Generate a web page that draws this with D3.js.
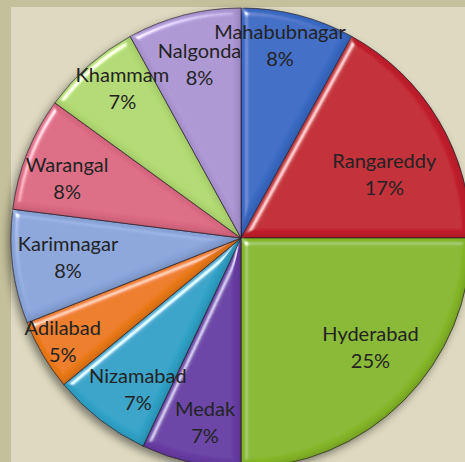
<!DOCTYPE html>
<html>
<head>
<meta charset="utf-8">
<script src="https://cdn.jsdelivr.net/npm/d3@7"></script>
<style>
  body { margin: 0; background: #c4c09b; }
  svg { display: block; }
  text { font-family: Lato, "Liberation Sans", sans-serif; }
</style>
</head>
<body>
<div id="chart"></div>
<script>
// districts, clockwise from 12 o'clock
var districts = ['Mahabubnagar', 'Rangareddy', 'Hyderabad', 'Medak', 'Nizamabad',
                 'Adilabad', 'Karimnagar', 'Warangal', 'Khammam', 'Nalgonda'];
var shares = [8, 17, 25, 7, 7, 5, 8, 8, 7, 8];

// slice colours (office 2007 style)
var sliceColors = ['#3a6bc4', '#c1232f', '#86b72a', '#673ca4', '#33a2c7',
                   '#ec7a1a', '#8aa5da', '#db6a83', '#b1d972', '#ab95d3'];

// label distance from centre, per district (layout only)
var labelDist = {
    'Mahabubnagar': 197, 'Rangareddy': 157, 'Hyderabad': 169, 'Medak': 187,
    'Nizamabad': 183, 'Adilabad': 206, 'Karimnagar': 174, 'Warangal': 184,
    'Khammam': 191, 'Nalgonda': 179
};
// small angle nudges in degrees (layout only)
var labelNudge = {
    'Mahabubnagar': -3, 'Rangareddy': 6.5, 'Hyderabad': -5, 'Medak': -1.5,
    'Nizamabad': -3.5, 'Adilabad': 0.5, 'Karimnagar': 1, 'Warangal': -2.5,
    'Khammam': 3, 'Nalgonda': 1
};

var width = 465, height = 462;
var cx = 241, cy = 238, radius = 230;

var svg = d3.select('#chart').append('svg')
    .attr('width', width)
    .attr('height', height);

// slide background
svg.append('rect')
    .attr('x', 11).attr('y', 7)
    .attr('width', width - 11).attr('height', height - 7)
    .attr('fill', '#dedac1');

var defs = svg.append('defs');

// bevel filter for the slices: light rim top-left, dark rim bottom-right
var bevel = defs.append('filter').attr('id', 'bevel')
    .attr('x', '-5%').attr('y', '-5%').attr('width', '110%').attr('height', '110%');
bevel.append('feGaussianBlur').attr('in', 'SourceAlpha').attr('stdDeviation', 3.5).attr('result', 'blur');
var spec = bevel.append('feSpecularLighting')
    .attr('in', 'blur').attr('surfaceScale', 5).attr('specularConstant', 0.8)
    .attr('specularExponent', 40).attr('lighting-color', '#ffffff').attr('result', 'spec');
spec.append('feDistantLight').attr('azimuth', 225).attr('elevation', 40);
bevel.append('feComposite').attr('in', 'spec').attr('in2', 'SourceAlpha')
    .attr('operator', 'in').attr('result', 'specOut');
// inner dark edge
bevel.append('feOffset').attr('in', 'blur').attr('dx', -2).attr('dy', -2).attr('result', 'offBlur');
bevel.append('feComposite').attr('in', 'SourceAlpha').attr('in2', 'offBlur')
    .attr('operator', 'out').attr('result', 'rim');
bevel.append('feFlood').attr('flood-color', '#000').attr('flood-opacity', 0.35).attr('result', 'dark');
bevel.append('feComposite').attr('in', 'dark').attr('in2', 'rim').attr('operator', 'in').attr('result', 'darkRim');
bevel.append('feComposite').attr('in', 'SourceGraphic').attr('in2', 'specOut')
    .attr('operator', 'arithmetic').attr('k1', 0).attr('k2', 1).attr('k3', 1).attr('k4', 0)
    .attr('result', 'lit');
var merge = bevel.append('feMerge');
merge.append('feMergeNode').attr('in', 'lit');
merge.append('feMergeNode').attr('in', 'darkRim');

// drop shadow for the whole pie
var shadow = defs.append('filter').attr('id', 'shadow')
    .attr('x', '-10%').attr('y', '-10%').attr('width', '120%').attr('height', '120%');
shadow.append('feDropShadow').attr('dx', -3).attr('dy', 4).attr('stdDeviation', 4)
    .attr('flood-color', '#000').attr('flood-opacity', 0.45);

var pie = d3.pie().sort(null).value(function(d){ return d; });
var arc = d3.arc().innerRadius(0).outerRadius(radius);
var arcs = pie(shares);

var g = svg.append('g').attr('transform', 'translate(' + cx + ',' + cy + ')');

// shadow base
g.append('circle').attr('r', radius).attr('fill', '#777').attr('filter', 'url(#shadow)');

g.selectAll('path.slice')
    .data(arcs)
    .enter().append('path')
        .attr('class', 'slice')
        .attr('d', arc)
        .attr('fill', function(d, i){ return sliceColors[i]; })
        .attr('stroke', 'rgba(40,30,40,0.6)')
        .attr('stroke-width', 1)
        .attr('filter', 'url(#bevel)');

// data labels
var labels = g.selectAll('text.label')
    .data(arcs)
    .enter().append('text')
        .attr('class', 'label')
        .attr('text-anchor', 'middle')
        .attr('font-size', 20)
        .attr('fill', '#232323')
        .attr('transform', function(d, i){
            var name = districts[i];
            var a = (d.startAngle + d.endAngle) / 2 + labelNudge[name] * Math.PI / 180;
            var r = labelDist[name];
            return 'translate(' + (Math.sin(a) * r) + ',' + (-Math.cos(a) * r) + ')';
        });

labels.append('tspan')
    .attr('x', 0).attr('y', -6)
    .text(function(d, i){ return districts[i]; });
labels.append('tspan')
    .attr('x', 0).attr('y', 21)
    .text(function(d, i){ return shares[i] + '%'; });
</script>
</body>
</html>
